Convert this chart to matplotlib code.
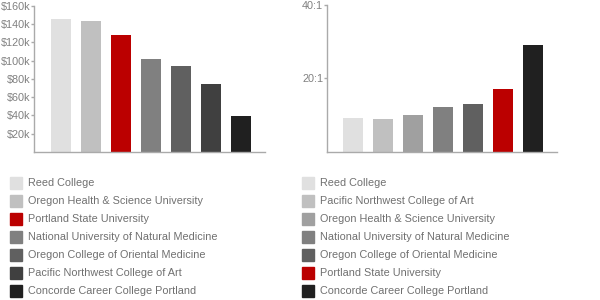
import numpy as np
import matplotlib
matplotlib.use('Agg')
import matplotlib.pyplot as plt
from matplotlib.patches import Rectangle

plt.rcParams['font.family'] = ['Liberation Sans', 'DejaVu Sans']

# left chart: salary
sal_names = ['Reed College', 'Oregon Health & Science University', 'Portland State University',
             'National University of Natural Medicine', 'Oregon College of Oriental Medicine',
             'Pacific Northwest College of Art', 'Concorde Career College Portland']
sal_values = [145.5, 143.5, 128, 101.5, 94, 74.5, 39]
sal_colors = ['#e0e0e0', '#c0c0c0', '#bb0000', '#808080', '#606060', '#404040', '#202020']

# right chart: student to faculty ratio
ratio_names = ['Reed College', 'Pacific Northwest College of Art', 'Oregon Health & Science University',
               'National University of Natural Medicine', 'Oregon College of Oriental Medicine',
               'Portland State University', 'Concorde Career College Portland']
ratio_values = [9.1, 9.0, 10, 12.1, 13, 17, 29.1]
ratio_colors = ['#e0e0e0', '#c0c0c0', '#a0a0a0', '#808080', '#606060', '#bb0000', '#202020']

sal_ticks = [20, 40, 60, 80, 100, 120, 140, 160]
sal_ticklabels = ['$%dk' % v for v in sal_ticks]
ratio_ticks = [20, 40]
ratio_ticklabels = ['20:1', '40:1']

W, H = 600., 300.
txt = '#808080'
spine = '#aaaaaa'
fs = 7.8

fig = plt.figure(figsize=(6, 3), dpi=100, facecolor='white')

def style(ax):
    for s in ['top', 'right']:
        ax.spines[s].set_visible(False)
    for s in ['left', 'bottom']:
        ax.spines[s].set_color(spine)
        ax.spines[s].set_linewidth(1.0)
    ax.tick_params(axis='y', direction='out', length=2, width=1, color=spine,
                   labelcolor=txt, labelsize=fs, pad=0.5)
    ax.tick_params(axis='x', length=0, labelbottom=False)

# left axes
ax1 = fig.add_axes([34/W, (H-152)/H, (265-34)/W, (152-5.7)/H])
x = np.arange(len(sal_values))
ax1.bar(x, sal_values, width=20/30., color=sal_colors, linewidth=0)
ax1.set_xlim(-0.9, 6.8)
ax1.set_ylim(0, 160)
ax1.set_yticks(sal_ticks)
ax1.set_yticklabels(sal_ticklabels)
style(ax1)

# right axes
ax2 = fig.add_axes([326.7/W, (H-152)/H, (557.3-326.7)/W, (152-4.7)/H])
ax2.bar(x, ratio_values, width=20/30., color=ratio_colors, linewidth=0)
ax2.set_xlim(-0.88, 6.81)
ax2.set_ylim(0, 40)
ax2.set_yticks(ratio_ticks)
ax2.set_yticklabels(ratio_ticklabels)
style(ax2)

# legends
def legend(x0, names, colors):
    for i, (n, c) in enumerate(zip(names, colors)):
        yc = 183 + 18*i
        fig.patches.append(Rectangle((x0/W, (H-yc-6)/H), 12/W, 12/H, color=c,
                                     transform=fig.transFigure, figure=fig))
        fig.text((x0+18)/W, (H-yc)/H, n, color='#707070', fontsize=fs, va='center', ha='left')

legend(10, sal_names, sal_colors)
legend(302, ratio_names, ratio_colors)

fig.savefig('out.png', dpi=100, facecolor='white')
